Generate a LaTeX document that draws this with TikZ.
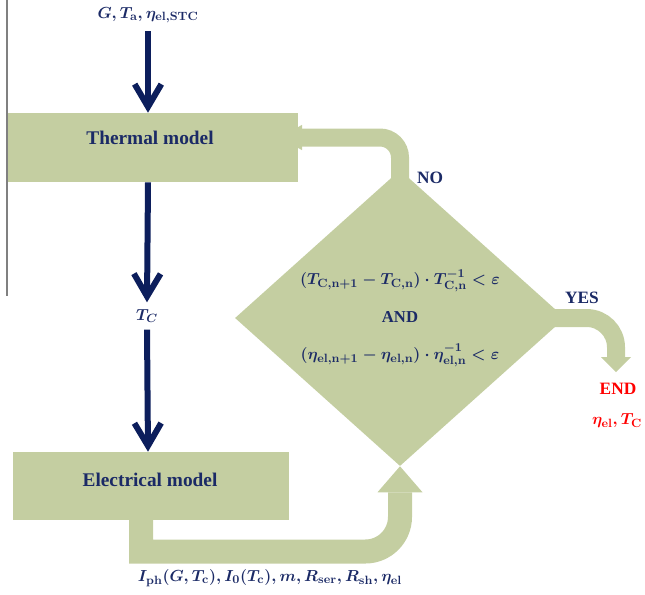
\documentclass[tikz,border=0pt]{standalone}
\usepackage{fontspec}
\setmainfont{Liberation Serif}
\usetikzlibrary{shapes.geometric,arrows.meta}
\definecolor{boxgreen}{RGB}{196,206,161}
\definecolor{navy}{RGB}{12,30,92}
\definecolor{inkblue}{RGB}{27,42,102}
\begin{document}
\begin{tikzpicture}[x=0.75pt,y=-0.75pt]
  \tikzset{block/.style={shape=rectangle,fill=boxgreen,inner sep=0pt},
    check/.style={shape=diamond,fill=boxgreen,inner sep=0pt,minimum width=247.5pt,minimum height=222pt},
    lbl/.style={text=inkblue,inner sep=0pt},
    down/.style={draw=navy,line width=4.5pt,-{Straight Barb[length=17pt,width=20pt]}},
    flow/.style={draw=boxgreen,line width=13.5pt,line join=miter}};
  \useasboundingbox (0,0) rectangle (645,594);
  \draw[gray,line width=1.5pt] (7,0) -- (7,296);
  \node[block,minimum width=217.5pt,minimum height=51.75pt](Thermal) at (153,147.5){};
  \node[block,minimum width=207pt,minimum height=51pt](Elec) at (151,486){};
  \node[check](Check) at (400,318){};
  \coordinate (NoBend) at (400,137.5);
  \coordinate (NoEnd) at (280,137.5);
  \coordinate (YesBend) at (616,318);
  \coordinate (YesEnd) at (616,372);
  \coordinate (UCorner) at (141,551.5);
  \coordinate (UBend) at (400,551.5);
  \draw[flow,rounded corners=15pt,-{Triangle[length=16.5pt,width=19pt,line width=0pt]}] ([yshift=-18pt]Check.north) -- (NoBend) -- (NoEnd);
  \draw[flow,rounded corners=22pt,-{Triangle[length=11.25pt,width=22.5pt,line width=0pt]}] ([xshift=-20pt]Check.east) -- (YesBend) -- (YesEnd);
  \draw[flow,line width=18pt,-{Triangle[length=19.5pt,width=33.75pt,line width=0pt]}] ([xshift=-7.5pt,yshift=4pt]Elec.south) -- (UCorner) [rounded corners=26pt] -- (UBend) -- (Check.south);
  \node[lbl,font=\fontsize{14.5}{17}\selectfont\bfseries](ThermalText) at (150,138){Thermal model};
  \node[lbl,font=\fontsize{14.5}{17}\selectfont\bfseries](ElecText) at (150,480){Electrical model};
  \node[lbl,font=\fontsize{12.5}{14}\selectfont\bfseries\boldmath](Input) at (148,15){$G,T_{\mathbf{a}},\eta_{\mathbf{el,STC}}$};
  \node[lbl,font=\fontsize{13}{14}\selectfont\bfseries\boldmath](Tc) at (147,316){$T_C$};
  \draw[down] ([yshift=-6pt]Input.south) -- (Input |- Thermal.north);
  \draw[down] (Input |- Thermal.south) -- ([yshift=5pt]Tc.north);
  \draw[down] ([yshift=-5pt]Tc.south) -- (Input |- Elec.north);
  \node[lbl,align=center,font=\fontsize{12.5}{15}\selectfont\bfseries\boldmath](CheckText) at (Check.center){$\bigl(T_{\mathbf{C,n+1}}-T_{\mathbf{C,n}}\bigr)\cdot T_{\mathbf{C,n}}^{-1}<\varepsilon$\\[13pt]AND\\[13pt]$\bigl(\eta_{\mathbf{el,n+1}}-\eta_{\mathbf{el,n}}\bigr)\cdot\eta_{\mathbf{el,n}}^{-1}<\varepsilon$};
  \node[lbl,font=\fontsize{13}{15}\selectfont\bfseries](No) at (430,178){NO};
  \node[lbl,font=\fontsize{13}{15}\selectfont\bfseries](Yes) at (582,298){YES};
  \node[lbl,text=red,font=\fontsize{13}{15}\selectfont\bfseries](End) at (618,389){END};
  \node[lbl,text=red,font=\fontsize{12.5}{14}\selectfont\bfseries\boldmath](EndVal) at (617,421){$\eta_{\mathbf{el}},T_{\mathbf{C}}$};
  \node[lbl,font=\fontsize{13.2}{15}\selectfont\bfseries\boldmath](Params) at (270,578){$I_{\mathbf{ph}}(G,T_{\mathbf{c}}),I_{\mathbf{0}}(T_{\mathbf{c}}),m,R_{\mathbf{ser}},R_{\mathbf{sh}},\eta_{\mathbf{el}}$};
\end{tikzpicture}
\end{document}
